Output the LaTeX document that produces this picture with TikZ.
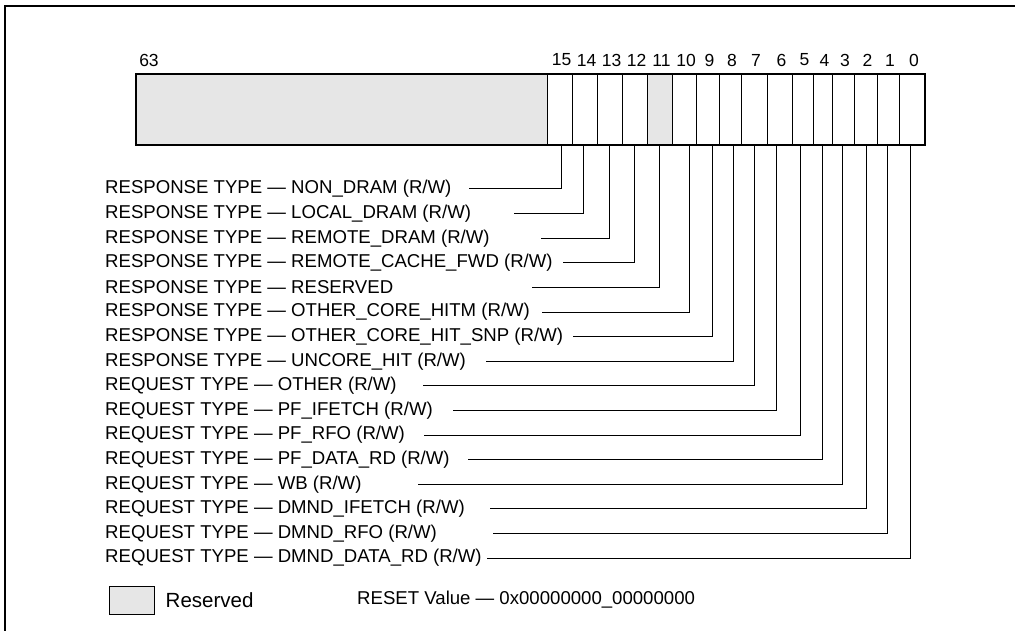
\documentclass[tikz,border=0pt]{standalone}
\usepackage{fontspec}
\setmainfont{Liberation Sans}
\usepackage{xcolor}
\usetikzlibrary{positioning}

\definecolor{rsvgray}{RGB}{230,230,230}

\begin{document}
\begin{tikzpicture}[x=1pt, y=-1pt,
      bitcell/.style={rectangle, draw, line width=0.8pt, inner sep=0pt, outer sep=0pt,
      minimum height=71pt},
      numlbl/.style={inner sep=0pt, font=\fontsize{17.5}{20}\selectfont},
      lbl/.style={anchor=west, inner sep=0pt, font=\fontsize{18.6}{22}\selectfont},
      leader/.style={line width=1pt}]
    \useasboundingbox (0,0) rectangle (1015,631);
    % frame
    \draw[line width=2.4pt] (5,631) -- (5,6) -- (1015,6);
    % reserved bits 63..16
    \node[bitcell, fill=rsvgray, minimum width=411pt] (b63) at (341.5,109.5) {};
    \node[numlbl] (n63) at (149,60) {63};
    % bit fields, leaders and names
    \foreach \b/\lo/\hi/\tap/\st/\txt in {
        15/547/572/561/469/{RESPONSE TYPE — NON\_DRAM (R/W)},
        14/572/597/583/514/{RESPONSE TYPE — LOCAL\_DRAM (R/W)},
        13/597/622/609/541/{RESPONSE TYPE — REMOTE\_DRAM (R/W)},
        12/622/647/634/563/{RESPONSE TYPE — REMOTE\_CACHE\_FWD (R/W)},
        11/647/672/659/532/{RESPONSE TYPE — RESERVED},
        10/672/696/689/542/{RESPONSE TYPE — OTHER\_CORE\_HITM (R/W)},
        9/696/719/712/573/{RESPONSE TYPE — OTHER\_CORE\_HIT\_SNP (R/W)},
        8/719/741/733/486/{RESPONSE TYPE — UNCORE\_HIT (R/W)},
        7/741/767/754/423/{REQUEST TYPE — OTHER (R/W)},
        6/767/792/776/453/{REQUEST TYPE — PF\_IFETCH (R/W)},
        5/792/813/800/424/{REQUEST TYPE — PF\_RFO (R/W)},
        4/813/832/822/468/{REQUEST TYPE — PF\_DATA\_RD (R/W)},
        3/832/854/842/418/{REQUEST TYPE — WB (R/W)},
        2/854/877/866/490/{REQUEST TYPE — DMND\_IFETCH (R/W)},
        1/877/899/887/493/{REQUEST TYPE — DMND\_RFO (R/W)},
        0/899/925/910/487/{REQUEST TYPE — DMND\_DATA\_RD (R/W)}} {
      \pgfmathsetmacro\w{\hi-\lo}
      \pgfmathsetmacro\ry{189+(15-\b)*24.6}
      \ifnum\b=11
        \node[bitcell, fill=rsvgray, minimum width=\w pt] (b\b) at ({(\lo+\hi)/2},109.5) {};
      \else
        \node[bitcell, minimum width=\w pt] (b\b) at ({(\lo+\hi)/2},109.5) {};
      \fi
      \node[numlbl] (n\b) at ({(\lo+\hi)/2+2},60) {\b};
      \node[lbl] (l\b) at (105,\ry) {\txt};
      \coordinate (s\b) at (\st,\ry);
      \coordinate (t\b) at (\tap,145);
      \draw[leader] (s\b) -| (t\b);
    }
    % register outline
    \draw[line width=2pt] (b63.north west) rectangle (b0.south east);
    % legend
    \node[rectangle, draw, line width=1pt, fill=rsvgray, minimum width=45pt,
      minimum height=28pt, inner sep=0pt] (key) at (131.5,600) {};
    \node[anchor=west, inner sep=0pt, font=\fontsize{20.5}{24}\selectfont,
      right=11pt of key] (keytxt) {Reserved};
    \node[lbl] (reset) at (357,600) {RESET Value — 0x00000000\_00000000};
  \end{tikzpicture}
\end{document}
